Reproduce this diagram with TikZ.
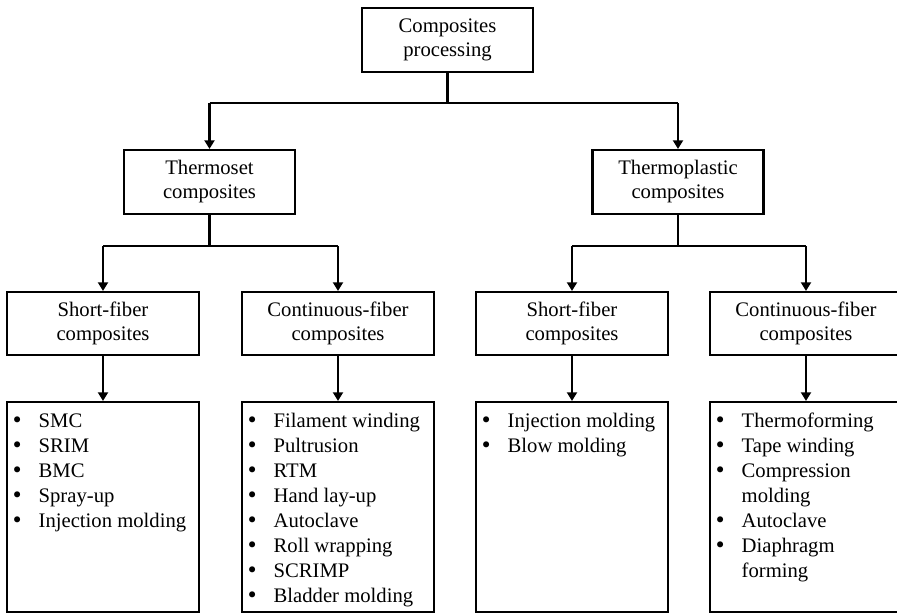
\documentclass[tikz,border=0pt]{standalone}
\usepackage{fontspec}
\setmainfont{Liberation Serif}
\newfontfamily\bulfont{DejaVu Sans}
\usetikzlibrary{arrows.meta,calc}
\begin{document}
\begin{tikzpicture}[x=0.75pt,y=-0.75pt,
  box/.style={draw,line width=1.6pt,inner sep=0pt,align=center,
    font=\fontsize{15.5}{18}\selectfont},
  hbox/.style={box,minimum width=128.25pt,minimum height=48pt},
  sbox/.style={box,minimum width=144pt,minimum height=47.25pt},
  lbox/.style={draw,line width=1.6pt,inner sep=0pt,minimum width=144pt,minimum height=157.5pt},
  lst/.style={inner sep=0pt,anchor=base west,font=\fontsize{15.5}{18.75}\selectfont},
  conn/.style={line width=1.6pt},
  arr/.style={conn,-{Triangle[width=7.5pt,length=6.5pt]}}]
\useasboundingbox (0,0) rectangle (897,615);
\newcommand{\lstab}[1]{\begin{tabular}[t]{@{}p{20.6pt}@{}l@{}}#1\end{tabular}}
\newcommand{\bi}{{\bulfont •} &}
% boxes
\node[hbox] (top) at (447.5,40) {Composites\\processing};
\node[hbox] (ts) at (209.5,182) {Thermoset\\composites};
\node[hbox] (tp) at (678,182) {Thermoplastic\\composites};
\node[sbox] (tss) at (103,323.5) {Short-fiber\\composites};
\node[sbox] (tsc) at (338,323.5) {Continuous-fiber\\composites};
\node[sbox] (tps) at (572,323.5) {Short-fiber\\composites};
\node[sbox] (tpc) at (806,323.5) {Continuous-fiber\\composites};
\node[lbox] (l1) at (103,507) {};
\node[lbox] (l2) at (338,507) {};
\node[lbox] (l3) at (572,507) {};
\node[lbox] (l4) at (806,507) {};
% lists
\node[lst] (t1) at ($(l1.north west)+(5,27)$) {\lstab{\bi SMC\\ \bi SRIM\\ \bi BMC\\ \bi Spray-up\\ \bi Injection molding}};
\node[lst] (t2) at ($(l2.north west)+(5,27)$) {\lstab{\bi Filament winding\\ \bi Pultrusion\\ \bi RTM\\ \bi Hand lay-up\\ \bi Autoclave\\ \bi Roll wrapping\\ \bi SCRIMP\\ \bi Bladder molding}};
\node[lst] (t3) at ($(l3.north west)+(5,27)$) {\lstab{\bi Injection molding\\ \bi Blow molding}};
\node[lst] (t4) at ($(l4.north west)+(5,27)$) {\lstab{\bi Thermoforming\\ \bi Tape winding\\ \bi Compression\\ & molding\\ \bi Autoclave\\ \bi Diaphragm\\ & forming}};
% connectors
\coordinate (j1) at (447.5,103);
\coordinate (j2) at (209.5,246);
\coordinate (j3) at (678,246);
\draw[conn] (top.south) -- (j1);
\draw[conn] (ts |- j1) -- (tp |- j1);
\draw[arr] (ts |- j1) -- (ts.north);
\draw[arr] (tp |- j1) -- (tp.north);
\draw[conn] (ts.south) -- (j2);
\draw[conn] (tss |- j2) -- (tsc |- j2);
\draw[arr] (tss |- j2) -- (tss.north);
\draw[arr] (tsc |- j2) -- (tsc.north);
\draw[conn] (tp.south) -- (j3);
\draw[conn] (tps |- j3) -- (tpc |- j3);
\draw[arr] (tps |- j3) -- (tps.north);
\draw[arr] (tpc |- j3) -- (tpc.north);
\draw[arr] (tss.south) -- (l1.north);
\draw[arr] (tsc.south) -- (l2.north);
\draw[arr] (tps.south) -- (l3.north);
\draw[arr] (tpc.south) -- (l4.north);
\end{tikzpicture}
\end{document}
